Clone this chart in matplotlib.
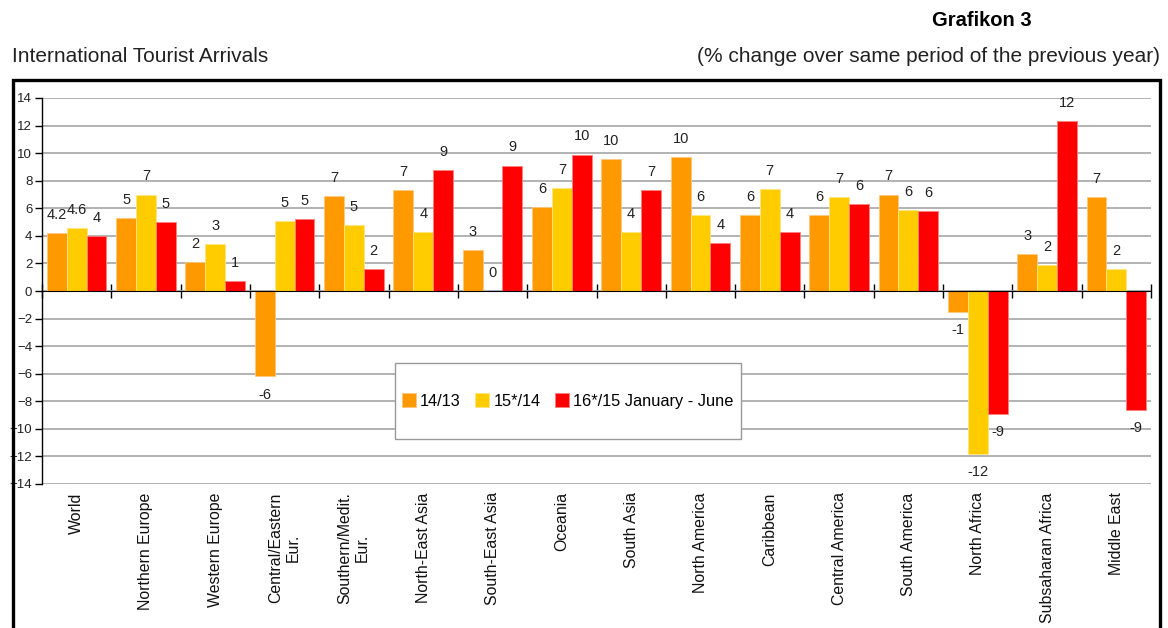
import matplotlib
matplotlib.use("Agg")
import matplotlib.pyplot as plt
import matplotlib.patches as mpatches
import numpy as np

regions = ["World", "Northern Europe", "Western Europe", "Central/Eastern\nEur.",
           "Southern/Medit.\nEur.", "North-East Asia", "South-East Asia", "Oceania",
           "South Asia", "North America", "Caribbean", "Central America",
           "South America", "North Africa", "Subsaharan Africa", "Middle East"]

series_names = ["14/13", "15*/14", "16*/15 January - June"]

v14_13 = [4.2, 5.3, 2.1, -6.2, 6.9, 7.3, 3.0, 6.1, 9.6, 9.7, 5.5, 5.5, 7.0, -1.5, 2.7, 6.8]
v15_14 = [4.6, 7.0, 3.4, 5.1, 4.8, 4.3, 0.0, 7.5, 4.3, 5.5, 7.4, 6.8, 5.9, -11.8, 1.9, 1.6]
v16_15 = [4.0, 5.0, 0.75, 5.2, 1.6, 8.8, 9.1, 9.9, 7.3, 3.5, 4.3, 6.3, 5.8, -8.9, 12.3, -8.65]

lab14_13 = ["4.2", "5", "2", "-6", "7", "7", "3", "6", "10", "10", "6", "6", "7", "-1", "3", "7"]
lab15_14 = ["4.6", "7", "3", "5", "5", "4", "0", "7", "4", "6", "7", "7", "6", "-12", "2", "2"]
lab16_15 = ["4", "5", "1", "5", "2", "9", "9", "10", "7", "4", "4", "6", "6", "-9", "12", "-9"]

colors = ["#FF9900", "#FFCC00", "#FF0000"]
edges = ["#ffc880", "#ffe680", "#ff8080"]
font = ["Liberation Sans", "DejaVu Sans"]

fig = plt.figure(figsize=(11.68, 6.28), dpi=100)
ax = fig.add_axes([42 / 1168, 1 - 484 / 628, (1151 - 42) / 1168, (484 - 98) / 628])

x = np.arange(len(regions))
w = 0.287
values = [v14_13, v15_14, v16_15]
labels = [lab14_13, lab15_14, lab16_15]
for k in range(3):
    xs = x + (k - 1) * w
    ax.bar(xs, values[k], width=w, color=colors[k], linewidth=0.6,
           edgecolor=edges[k], label=series_names[k], zorder=3)
    for xi, v, s in zip(xs, values[k], labels[k]):
        off = 13 if v >= 0 else -13
        ax.annotate(s, (xi, v), xytext=(0, off), textcoords="offset points",
                    ha="center", va="center", fontsize=10.5, family=font,
                    color="#222222", zorder=4)

ax.set_xlim(-0.5, len(regions) - 0.5)
ax.set_ylim(-14, 14)
ax.set_yticks(np.arange(-14, 15, 2))
ax.yaxis.grid(True, color="#a6a6a6", linewidth=1.2, zorder=0)
ax.set_axisbelow(True)

ax.spines["top"].set_visible(False)
ax.spines["right"].set_visible(False)
ax.spines["bottom"].set_position(("data", 0))
ax.spines["bottom"].set_zorder(5)
ax.spines["left"].set_linewidth(1.0)

ax.set_xticks(np.arange(-0.5, len(regions), 1.0))
ax.set_xticklabels([])
ax.tick_params(axis="x", direction="inout", length=10, width=1)
ax.tick_params(axis="y", direction="out", length=5, width=1, pad=2)
for t in ax.get_yticklabels():
    t.set_fontfamily(font)
    t.set_fontsize(9.5)
    t.set_color("#222222")

for xi, name in zip(x, regions):
    ax.annotate(name, (xi, -14), xytext=(0, -6), textcoords="offset points",
                rotation=90, ha="center", va="top", multialignment="center",
                fontsize=11.4, family=font, color="#111111", annotation_clip=False)

# legend with a hand drawn box (wide vertical padding, tight horizontal)
leg = ax.legend(loc="center", bbox_to_anchor=(0.474, 0.215), ncol=3, frameon=False,
                borderpad=0.2, handlelength=0.85, handleheight=0.95, handletextpad=0.25,
                columnspacing=0.9, prop={"family": font, "size": 11.8})
box = mpatches.Rectangle(((395 - 42) / 1109, (484 - 439) / 386), 346 / 1109, 76 / 386,
                         transform=ax.transAxes, facecolor="white", edgecolor="#999999",
                         linewidth=1.0, zorder=6)
ax.add_patch(box)
leg.set_zorder(7)

# outer frame
frame = mpatches.Rectangle((13 / 1168, -0.05), (1160 - 13) / 1168, 1 - 80 / 628 + 0.05,
                           transform=fig.transFigure, fill=False, edgecolor="black",
                           linewidth=2.4, clip_on=False)
fig.patches.append(frame)

fig.text(12 / 1168, 1 - 57 / 628, "International Tourist Arrivals", ha="left", va="center",
         fontsize=15, family=font, color="#222222")
fig.text(1160 / 1168, 1 - 57 / 628, "(% change over same period of the previous year)",
         ha="right", va="center", fontsize=15, family=font, color="#222222")
fig.text(982 / 1168, 1 - 20 / 628, "Grafikon 3", ha="center", va="center",
         fontsize=14.5, fontweight="bold", family=font, color="black")

fig.savefig("out.png", dpi=100)
